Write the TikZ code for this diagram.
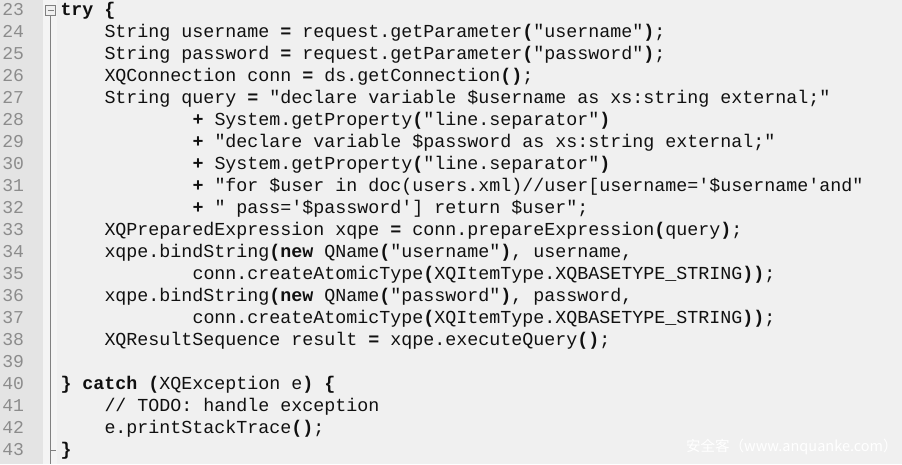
\documentclass[tikz,border=0pt]{standalone}
\usepackage{fontspec}
\setmonofont{Liberation Mono}
\newfontfamily\cjkfont{Noto Sans CJK SC}
\definecolor{bgmain}{HTML}{F0F0F0}
\definecolor{bggutter}{HTML}{E4E4E4}
\definecolor{bgfold}{HTML}{F4F4F4}
\definecolor{numgray}{HTML}{8C8C8C}
\definecolor{foldgray}{HTML}{808080}
\definecolor{codeblack}{HTML}{101010}
\newcommand\B[1]{\textbf{#1}}
\tikzset{
  codeline/.style={anchor=base west, inner sep=0pt, outer sep=0pt, text=codeblack,
    font=\ttfamily\fontsize{18.33}{22}\selectfont},
  lineno/.style={anchor=base east, inner sep=0pt, outer sep=0pt, text=numgray,
    font=\ttfamily\fontsize{18.1}{22}\selectfont},
  foldline/.style={draw=foldgray, line width=1pt},
  watermark/.style={anchor=base west, inner sep=0pt, text=white,
    font=\cjkfont\fontsize{14.5}{16}\selectfont}
}
\begin{document}
\begin{tikzpicture}[x=1pt,y=-1pt]
\useasboundingbox (0,0) rectangle (902,464);
\fill[bgmain] (0,0) rectangle (902,464);
\fill[bggutter] (0,0) rectangle (43,464);
\fill[bgfold] (43,0) rectangle (57,464);
% fold marker
\node[draw=foldgray, fill=bgmain, line width=1pt, minimum size=10pt, inner sep=0pt] (fbox) at (50.5,10.5) {};
\coordinate (fend) at (50.5,464);
\coordinate (ftick) at (50.5,450);
\coordinate (ftickend) at (56,450);
\draw[draw=foldgray, line width=1pt] ([xshift=-3pt]fbox.center) -- ([xshift=3pt]fbox.center);
\draw[foldline] (fbox.south) -- (fend);
\draw[foldline] (ftick) -- (ftickend);
% line numbers
\foreach \n [count=\i from 0] in {23,...,43} {
  \node[lineno] (n\n) at (24, 15.5+22*\i) {\n};
}
% code
\def\cw{11}
\def\cx{60.5}
\node[codeline] (l23) at (\cx,15.5) {\B{try} \B{\{}};
\node[codeline] (l24) at (\cx+4*\cw,37.5) {String username \B{=} request.getParameter\B{(}"username"\B{)};};
\node[codeline] (l25) at (\cx+4*\cw,59.5) {String password \B{=} request.getParameter\B{(}"password"\B{)};};
\node[codeline] (l26) at (\cx+4*\cw,81.5) {XQConnection conn \B{=} ds.getConnection\B{()};};
\node[codeline] (l27) at (\cx+4*\cw,103.5) {String query \B{=} "declare variable \$username as xs:string external;"};
\node[codeline] (l28) at (\cx+12*\cw,125.5) {\B{+} System.getProperty\B{(}"line.separator"\B{)}};
\node[codeline] (l29) at (\cx+12*\cw,147.5) {\B{+} "declare variable \$password as xs:string external;"};
\node[codeline] (l30) at (\cx+12*\cw,169.5) {\B{+} System.getProperty\B{(}"line.separator"\B{)}};
\node[codeline] (l31) at (\cx+12*\cw,191.5) {\B{+} "for \$user in doc(users.xml)//user[username='\$username'and"};
\node[codeline] (l32) at (\cx+12*\cw,213.5) {\B{+} " pass='\$password'] return \$user";};
\node[codeline] (l33) at (\cx+4*\cw,235.5) {XQPreparedExpression xqpe \B{=} conn.prepareExpression\B{(}query\B{)};};
\node[codeline] (l34) at (\cx+4*\cw,257.5) {xqpe.bindString\B{(new} QName\B{(}"username"\B{)}, username,};
\node[codeline] (l35) at (\cx+12*\cw,279.5) {conn.createAtomicType\B{(}XQItemType.XQBASETYPE\_STRING\B{))};};
\node[codeline] (l36) at (\cx+4*\cw,301.5) {xqpe.bindString\B{(new} QName\B{(}"password"\B{)}, password,};
\node[codeline] (l37) at (\cx+12*\cw,323.5) {conn.createAtomicType\B{(}XQItemType.XQBASETYPE\_STRING\B{))};};
\node[codeline] (l38) at (\cx+4*\cw,345.5) {XQResultSequence result \B{=} xqpe.executeQuery\B{()};};
\node[codeline] (l40) at (\cx,389.5) {\B{\}} \B{catch} \B{(}XQException e\B{)} \B{\{}};
\node[codeline] (l41) at (\cx+4*\cw,411.5) {// TODO: handle exception};
\node[codeline] (l42) at (\cx+4*\cw,433.5) {e.printStackTrace\B{()};};
\node[codeline] (l43) at (\cx,455.5) {\B{\}}};
% watermark
\node[watermark] (wm) at (686,451) {安全客（www.anquanke.com）};
\end{tikzpicture}
\end{document}
